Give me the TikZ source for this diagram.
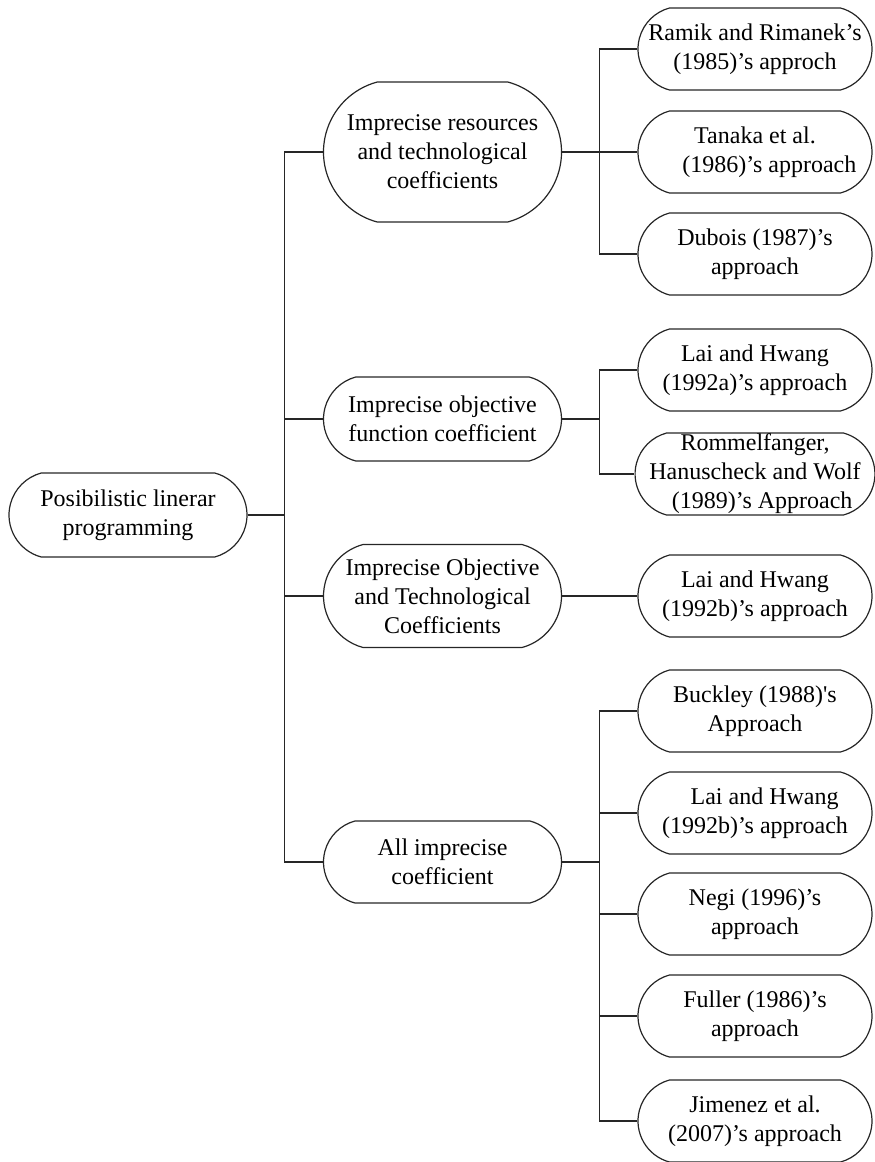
\documentclass[tikz,border=0pt]{standalone}
\usepackage{fontspec}
\setmainfont{Liberation Serif}
\usetikzlibrary{shapes.misc}
\begin{document}
\begin{tikzpicture}[x=0.5pt, y=-0.5pt,
    term/.style={rounded rectangle, rounded rectangle arc length=150, draw=black!85, line width=0.6pt,
        align=center, inner sep=1pt, font=\fontsize{12}{14.5}\selectfont, minimum width=121pt},
    leaf/.style={term, minimum width=119pt, minimum height=41pt},
    link/.style={line width=0.6pt, black!85}]
    \useasboundingbox (0,0) rectangle (874,1162);

    % Akar
    \node[term, minimum height=42pt] (root) at (128,515) {Posibilistic linerar\\programming};

    % Cabang utama
    \node[term, minimum height=70pt] (res) at (442.5,152) {Imprecise resources\\and technological\\coefficients};
    \node[term, minimum height=42pt] (obj) at (442.5,419) {Imprecise objective\\function coefficient};
    \node[term, minimum height=51.5pt] (objtech) at (442.5,596) {Imprecise Objective\\and Technological\\Coefficients};
    \node[term, minimum height=41pt] (all) at (442.5,862) {All imprecise\\coefficient};

    % Pendekatan
    \node[leaf] (ramik) at (755,49) {Ramik and Rimanek's\\(1985)'s approch};
    \node[leaf] (tanaka) at (755,152) {Tanaka et al.\\\hspace*{1.2em}(1986)'s approach};
    \node[leaf] (dubois) at (755,254) {Dubois (1987)'s\\approach};
    \node[leaf] (laia) at (755,370) {Lai and Hwang\\(1992a)'s approach};
    \node[leaf, inner xsep=-7pt, inner ysep=0pt] (rommel) at (755,474) {Rommelfanger,\\Hanuscheck and Wolf\\\hspace*{0.6em}(1989)'s Approach};
    \node[leaf] (laib) at (755,596) {Lai and Hwang\\(1992b)'s approach};
    \node[leaf] (buckley) at (755,711) {Buckley (1988)\textquotesingle s\\Approach};
    \node[leaf] (laic) at (755,813) {\hspace*{0.8em}Lai and Hwang\\(1992b)'s approach};
    \node[leaf] (negi) at (755,914) {Negi (1996)'s\\approach};
    \node[leaf] (fuller) at (755,1016) {Fuller (1986)'s\\approach};
    \node[leaf] (jimenez) at (755,1121) {Jimenez et al.\\(2007)'s approach};

    % Garis penghubung
    \foreach \n in {res,obj,objtech,all}
        \draw[link] (root.east) -- ++(37,0) |- (\n.west);
    \foreach \n in {ramik,tanaka,dubois}
        \draw[link] (res.east) -- ++(37,0) |- (\n.west);
    \foreach \n in {laia,rommel}
        \draw[link] (obj.east) -- ++(37,0) |- (\n.west);
    \draw[link] (objtech.east) -- (laib.west);
    \foreach \n in {buckley,laic,negi,fuller,jimenez}
        \draw[link] (all.east) -- ++(37,0) |- (\n.west);
\end{tikzpicture}
\end{document}
